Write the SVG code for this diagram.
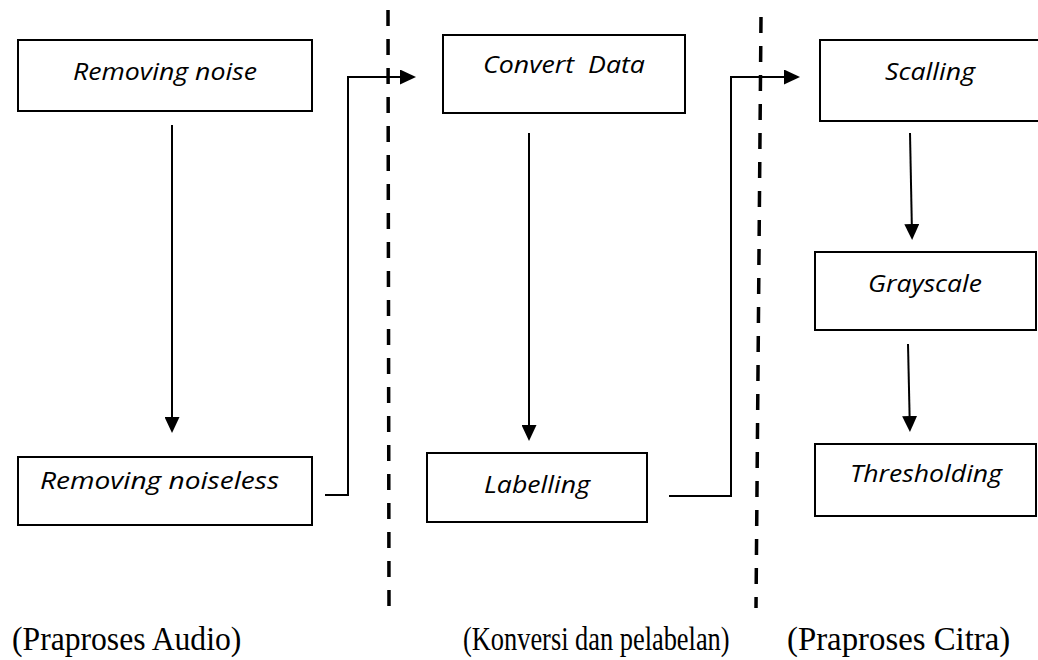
<svg xmlns="http://www.w3.org/2000/svg" width="1038" height="660" viewBox="0 0 1038 660">
<style>
.box{fill:#fff;stroke:#000;stroke-width:2}
.lbl{font-family:"Open Sans","Liberation Sans",sans-serif;font-style:italic;font-size:23px;fill:#000;text-anchor:start}
.cap{font-family:"Liberation Serif","Times New Roman",serif;font-size:34px;fill:#000}
.conn{fill:none;stroke:#000;stroke-width:2}
.div{stroke:#000;stroke-width:3.5;stroke-dasharray:16 13;fill:none}
</style>
<defs>
<marker id="ah" viewBox="0 0 16 15" refX="0" refY="7.5" markerWidth="16" markerHeight="15" markerUnits="userSpaceOnUse" orient="auto">
<path d="M0,0 L16,7.5 L0,15 Z" fill="#000"/>
</marker>
</defs>
<rect width="1038" height="660" fill="#fff"/>
<g id="dividers">
<line class="div" x1="388" y1="10" x2="389" y2="608"/>
<line class="div" x1="761" y1="17" x2="756" y2="608"/>
</g>
<g id="connectors">
<path class="conn" d="M172,125 V417" marker-end="url(#ah)"/>
<path class="conn" d="M325,495 H348 V77 H400" marker-end="url(#ah)"/>
<path class="conn" d="M529,133 V425" marker-end="url(#ah)"/>
<path class="conn" d="M669,496 H731 V77 H784" marker-end="url(#ah)"/>
<path class="conn" d="M910,133 L911.8,224" marker-end="url(#ah)"/>
<path class="conn" d="M908,344 L909.6,416" marker-end="url(#ah)"/>
</g>
<g id="removing-noise">
<rect class="box" x="18" y="40" width="294" height="71"/>
<text class="lbl" x="73" y="80" textLength="184" lengthAdjust="spacingAndGlyphs">Removing noise</text>
</g>
<g id="removing-noiseless">
<rect class="box" x="18" y="457" width="294" height="68"/>
<text class="lbl" x="40" y="489" textLength="239" lengthAdjust="spacingAndGlyphs">Removing noiseless</text>
</g>
<g id="convert-data">
<rect class="box" x="443" y="35" width="242" height="78"/>
<text class="lbl" x="483" y="73" textLength="162" lengthAdjust="spacingAndGlyphs" xml:space="preserve">Convert  Data</text>
</g>
<g id="labelling">
<rect class="box" x="427" y="453" width="220" height="69"/>
<text class="lbl" x="484" y="493" textLength="106" lengthAdjust="spacingAndGlyphs">Labelling</text>
</g>
<g id="scalling">
<rect class="box" x="820" y="40" width="222" height="81"/>
<text class="lbl" x="885" y="80" textLength="90" lengthAdjust="spacingAndGlyphs">Scalling</text>
</g>
<g id="grayscale">
<rect class="box" x="815" y="252" width="221" height="78"/>
<text class="lbl" x="868" y="292" textLength="114" lengthAdjust="spacingAndGlyphs">Grayscale</text>
</g>
<g id="thresholding">
<rect class="box" x="815" y="444" width="221" height="72"/>
<text class="lbl" x="850" y="482" textLength="152" lengthAdjust="spacingAndGlyphs">Thresholding</text>
</g>
<g id="captions">
<text class="cap" transform="translate(12,650) scale(0.931,1)">(Praproses Audio)</text>
<text class="cap" transform="translate(463,650) scale(0.776,1)">(Konversi dan pelabelan)</text>
<text class="cap" transform="translate(787,650) scale(0.965,1)">(Praproses Citra)</text>
</g>
</svg>
